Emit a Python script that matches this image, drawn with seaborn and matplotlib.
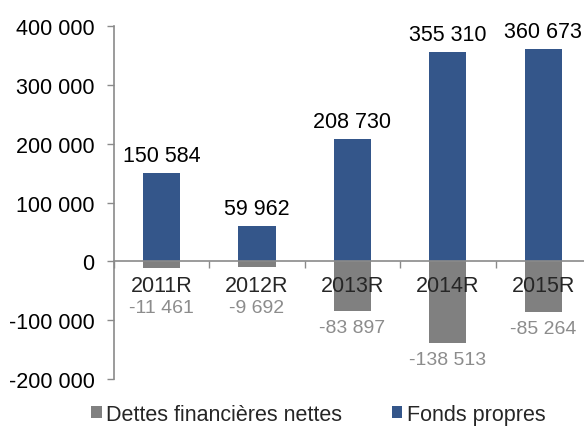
import pandas as pd
import matplotlib
matplotlib.use("Agg")
import matplotlib.pyplot as plt
import seaborn as sns
from matplotlib.patches import Patch
from matplotlib.ticker import FuncFormatter, FixedLocator

# Data
years = ["2011R", "2012R", "2013R", "2014R", "2015R"]
fonds_propres = [150584, 59962, 208730, 355310, 360673]
dettes_nettes = [-11461, -9692, -83897, -138513, -85264]
series_names = ["Dettes financières nettes", "Fonds propres"]
y_ticks = [-200000, -100000, 0, 100000, 200000, 300000, 400000]

blue = "#34568A"
grey = "#808080"
axis_grey = "#8A8A8A"
label_grey = "#8C8C8C"

df = pd.DataFrame({
    "year": years * 2,
    "value": dettes_nettes + fonds_propres,
    "serie": [series_names[0]] * len(years) + [series_names[1]] * len(years),
})

sns.set_style("white")
plt.rcParams["font.family"] = ["Liberation Sans", "DejaVu Sans"]

fig = plt.figure(figsize=(5.84, 4.27), dpi=100)
ax = fig.add_axes([0.195, 0.110, 0.817, 0.8267])

sns.barplot(data=df, x="year", y="value", hue="serie", dodge=False,
            width=0.39, palette={series_names[0]: grey, series_names[1]: blue},
            order=years, hue_order=series_names, ax=ax, legend=False,
            edgecolor="none", saturation=1)

ax.set_xlim(-0.5, 4.5)
ax.set_ylim(-200000, 400000)
ax.set_xlabel("")
ax.set_ylabel("")
ax.set_axisbelow(False)

# y axis
ax.yaxis.set_major_locator(FixedLocator(y_ticks))
ax.yaxis.set_major_formatter(FuncFormatter(lambda v, p: f"{int(v):,}".replace(",", " ")))
ax.tick_params(axis="y", labelsize=15.5, length=5, width=1, color=axis_grey,
               left=True, pad=9, labelcolor="black")

# x axis on the zero line, ticks between categories
for s in ["top", "right"]:
    ax.spines[s].set_visible(False)
ax.spines["left"].set_color(axis_grey)
ax.spines["left"].set_linewidth(1.2)
ax.spines["bottom"].set_position(("data", 0))
ax.spines["bottom"].set_color(axis_grey)
ax.spines["bottom"].set_linewidth(1.2)
ax.xaxis.set_minor_locator(FixedLocator([i - 0.5 for i in range(len(years) + 1)]))
ax.tick_params(axis="x", which="major", length=0, labelsize=15.5, pad=10)
ax.tick_params(axis="x", which="minor", length=5, width=1, color=axis_grey, bottom=True)

def fmt(v):
    return f"{v:,}".replace(",", " ")

# value labels
for i, v in enumerate(fonds_propres):
    ax.annotate(fmt(v), (i, v), xytext=(0, 5), textcoords="offset points",
                ha="center", va="bottom", fontsize=15.5, color="black")
for i, v in enumerate(dettes_nettes):
    ax.text(i, min(v, -50000) - 28000, fmt(v), ha="center", va="center",
            fontsize=14, color=label_grey)

handles = [Patch(facecolor=grey, edgecolor="none"), Patch(facecolor=blue, edgecolor="none")]
fig.legend(handles, series_names, loc="center", bbox_to_anchor=(0.545, 0.028),
           ncol=2, frameon=False, fontsize=15.5, handlelength=0.5, handleheight=0.5,
           handletextpad=0.2, columnspacing=2.3, borderpad=0.1)

fig.savefig("out.png", dpi=100)
